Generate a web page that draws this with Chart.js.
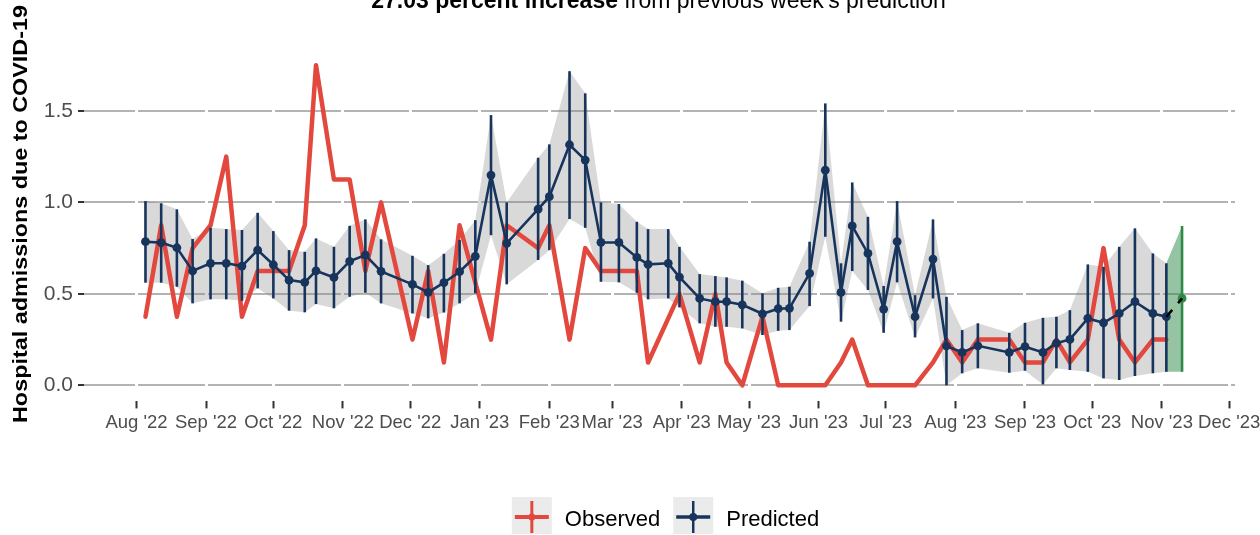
<!DOCTYPE html>
<html>
<head>
<meta charset="utf-8">
<title>COVID-19 hospital admissions</title>
<script src="https://cdn.jsdelivr.net/npm/chart.js@4.4.0/dist/chart.umd.min.js"></script>
<style>
  html, body { margin: 0; padding: 0; background: #ffffff; }
  #wrap { width: 1260px; height: 535px; }
</style>
</head>
<body>
<div id="wrap"><canvas id="myChart" width="1260" height="535"></canvas></div>
<script>
// Report dates (one per week, a few weeks are missing)
var weekDates = [
  '2022-08-05', '2022-08-12', '2022-08-19', '2022-08-26', '2022-09-03', '2022-09-10', '2022-09-17',
  '2022-09-24', '2022-10-01', '2022-10-08', '2022-10-15', '2022-10-20', '2022-10-28', '2022-11-04',
  '2022-11-11', '2022-11-18', '2022-12-02', '2022-12-09', '2022-12-16', '2022-12-23', '2022-12-30',
  '2023-01-06', '2023-01-13', '2023-01-27', '2023-02-01', '2023-02-10', '2023-02-17', '2023-02-24',
  '2023-03-04', '2023-03-12', '2023-03-17', '2023-03-26', '2023-03-31', '2023-04-09', '2023-04-16',
  '2023-04-21', '2023-04-28', '2023-05-07', '2023-05-14', '2023-05-19', '2023-05-28', '2023-06-04',
  '2023-06-11', '2023-06-16', '2023-06-23', '2023-06-30', '2023-07-06', '2023-07-14', '2023-07-22',
  '2023-07-28', '2023-08-04', '2023-08-11', '2023-08-25', '2023-09-01', '2023-09-09', '2023-09-15',
  '2023-09-21', '2023-09-29', '2023-10-06', '2023-10-13', '2023-10-20', '2023-10-28', '2023-11-03'
];

// Observed admissions (null = no observation that week)
var observed = [
  0.375, 0.875, 0.375, 0.75, 0.875, 1.25, 0.375, 0.625, 0.625, 0.625, 0.875, 1.75, 1.125, 1.125,
  0.625, 1.0, 0.25, 0.625, 0.125, 0.875, null, 0.25, 0.875, 0.75, 0.875, 0.25, 0.75, 0.625,
  0.625, 0.625, 0.125, null, 0.5, 0.125, 0.5, 0.125, 0, 0.375, 0, 0, 0, 0,
  0.125, 0.25, 0, 0, 0, 0, 0.125, 0.25, 0.125, 0.25, 0.25, 0.125, 0.125, 0.25,
  0.125, 0.25, 0.75, 0.25, 0.125, 0.25, 0.25
];

// Predicted admissions with interval
var predicted = [
  0.785, 0.78, 0.752, 0.625, 0.667, 0.667, 0.652, 0.739, 0.659, 0.575, 0.563, 0.626, 0.59, 0.678,
  0.712, 0.623, 0.552, 0.508, 0.561, 0.621, 0.705, 1.149, 0.776, 0.963, 1.031, 1.315, 1.231, 0.781,
  0.781, 0.699, 0.661, 0.667, 0.592, 0.475, 0.457, 0.457, 0.44, 0.391, 0.419, 0.421, 0.612, 1.176,
  0.508, 0.871, 0.721, 0.417, 0.785, 0.375, 0.69, 0.215, 0.18, 0.216, 0.18, 0.211, 0.18, 0.23,
  0.251, 0.366, 0.342, 0.393, 0.457, 0.393, 0.375
];
var predLower = [
  0.561, 0.561, 0.539, 0.448, 0.47, 0.47, 0.462, 0.53, 0.475, 0.408, 0.399, 0.444, 0.421, 0.484,
  0.506, 0.448, 0.393, 0.366, 0.398, 0.448, 0.503, 0.821, 0.552, 0.685, 0.739, 0.909, 0.861, 0.566,
  0.563, 0.506, 0.47, 0.475, 0.426, 0.339, 0.32, 0.32, 0.311, 0.275, 0.298, 0.302, 0.433, 0.812,
  0.348, 0.625, 0.521, 0.287, 0.563, 0.262, 0.475, 0.0, 0.066, 0.093, 0.069, 0.08, 0.005, 0.093,
  0.084, 0.074, 0.038, 0.029, 0.051, 0.066, 0.074
];
var predUpper = [
  1.007, 0.995, 0.962, 0.8, 0.861, 0.854, 0.849, 0.943, 0.843, 0.739, 0.73, 0.803, 0.757, 0.872,
  0.907, 0.798, 0.708, 0.657, 0.719, 0.794, 0.903, 1.477, 1.0, 1.244, 1.317, 1.717, 1.596, 1.0,
  0.991, 0.894, 0.854, 0.854, 0.757, 0.608, 0.597, 0.59, 0.572, 0.503, 0.533, 0.539, 0.785, 1.541,
  0.667, 1.109, 0.921, 0.543, 1.007, 0.493, 0.907, 0.484, 0.302, 0.339, 0.287, 0.342, 0.369, 0.375,
  0.411, 0.661, 0.648, 0.757, 0.858, 0.721, 0.667
];

// Next week's forecast
var forecastDate = '2023-11-10';
var forecastValue = 0.475;
var forecastLower = 0.074;
var forecastUpper = 0.871;

// Axis ticks
var monthStarts = [
  '2022-08-01', '2022-09-01', '2022-10-01', '2022-11-01', '2022-12-01', '2023-01-01', '2023-02-01',
  '2023-03-01', '2023-04-01', '2023-05-01', '2023-06-01', '2023-07-01', '2023-08-01', '2023-09-01',
  '2023-10-01', '2023-11-01', '2023-12-01'
];
var monthLabels = [
  "Aug '22", "Sep '22", "Oct '22", "Nov '22", "Dec '22", "Jan '23", "Feb '23", "Mar '23", "Apr '23",
  "May '23", "Jun '23", "Jul '23", "Aug '23", "Sep '23", "Oct '23", "Nov '23", "Dec '23"
];
var yTicks = [0, 0.5, 1, 1.5];

var titleBold = '27.03 percent increase';
var titleRest = " from previous week's prediction";
var yTitle = 'Hospital admissions due to COVID-19';

var RED = '#e2483e';
var NAVY = '#17345c';
var GREEN = '#2e8a46';
var FONT = "'Liberation Sans', Arial, Helvetica, sans-serif";

// days since 1 Aug 2022
var DAY0 = Date.UTC(2022, 7, 1);
function toDay(s) {
  var p = s.split('-');
  return (Date.UTC(+p[0], +p[1] - 1, +p[2]) - DAY0) / 86400000;
}
function pts(vals) {
  return weekDates.map(function (d, i) { return { x: toDay(d), y: vals[i] }; });
}

var last = weekDates.length - 1;
var lastDay = toDay(weekDates[last]);
var fDay = toDay(forecastDate);

// error bars are drawn just before the predicted line
var errorBars = {
  id: 'errorBars',
  beforeDatasetDraw: function (chart, args) {
    if (args.index !== 5) return;
    var ctx = chart.ctx, xs = chart.scales.x, ys = chart.scales.y;
    ctx.save();
    ctx.lineWidth = 2.6;
    ctx.strokeStyle = NAVY;
    weekDates.forEach(function (d, i) {
      var px = xs.getPixelForValue(toDay(d));
      ctx.beginPath();
      ctx.moveTo(px, ys.getPixelForValue(predLower[i]));
      ctx.lineTo(px, ys.getPixelForValue(predUpper[i]));
      ctx.stroke();
    });
    var fx = xs.getPixelForValue(fDay);
    ctx.strokeStyle = GREEN;
    ctx.beginPath();
    ctx.moveTo(fx, ys.getPixelForValue(forecastLower));
    ctx.lineTo(fx, ys.getPixelForValue(forecastUpper));
    ctx.stroke();
    ctx.restore();
  }
};

// title, y axis title and legend
var decorations = {
  id: 'decorations',
  afterDraw: function (chart) {
    var ctx = chart.ctx, area = chart.chartArea;
    var cx = (area.left + area.right) / 2;
    ctx.save();

    // title (cut off at the top like the original)
    ctx.fillStyle = '#000000';
    ctx.textBaseline = 'alphabetic';
    ctx.textAlign = 'left';
    ctx.font = 'bold 23px ' + FONT;
    var wb = ctx.measureText(titleBold).width;
    ctx.font = '23px ' + FONT;
    var wr = ctx.measureText(titleRest).width;
    var tx = cx - 1 - (wb + wr) / 2;
    ctx.font = 'bold 23px ' + FONT;
    ctx.fillText(titleBold, tx, 7.5);
    ctx.font = '23px ' + FONT;
    ctx.fillText(titleRest, tx + wb, 7.5);

    // y axis title
    ctx.save();
    ctx.translate(27, 214);
    ctx.rotate(-Math.PI / 2);
    ctx.font = 'bold 21px ' + FONT;
    var wy = ctx.measureText(yTitle).width;
    ctx.scale(418 / wy, 1);
    ctx.textAlign = 'center';
    ctx.fillText(yTitle, 0, 0);
    ctx.restore();

    // legend
    ctx.font = '22px ' + FONT;
    var items = [
      { text: 'Observed', color: RED, lw: 4, vw: 3, r: 3.5 },
      { text: 'Predicted', color: NAVY, lw: 3.5, vw: 2.5, r: 4 }
    ];
    var total = 0;
    items.forEach(function (it) { it.w = ctx.measureText(it.text).width; total += 40 + 13 + it.w; });
    total += 13;
    var x = cx + 6 - total / 2;
    var ky = 497;
    items.forEach(function (it) {
      ctx.fillStyle = '#ebebeb';
      ctx.fillRect(x, ky, 40, 37);
      var mx = x + 20, my = ky + 20;
      ctx.strokeStyle = it.color;
      ctx.lineWidth = it.lw;
      ctx.beginPath();
      ctx.moveTo(x + 3, my);
      ctx.lineTo(x + 37, my);
      ctx.stroke();
      ctx.lineWidth = it.vw;
      ctx.beginPath();
      ctx.moveTo(mx, ky + 4);
      ctx.lineTo(mx, ky + 36);
      ctx.stroke();
      ctx.fillStyle = it.color;
      ctx.beginPath();
      ctx.arc(mx, my, it.r, 0, Math.PI * 2);
      ctx.fill();
      ctx.fillStyle = '#000000';
      ctx.textAlign = 'left';
      ctx.fillText(it.text, x + 53, 526);
      x += 40 + 13 + it.w + 13;
    });
    ctx.restore();
  }
};

var ctx = document.getElementById('myChart').getContext('2d');
var myChart = new Chart(ctx, {
  type: 'line',
  data: {
    datasets: [
      // grey prediction ribbon
      { label: 'upper', data: pts(predUpper), borderColor: 'rgba(0,0,0,0)', borderWidth: 0, pointRadius: 0,
        fill: '+1', backgroundColor: 'rgba(128,128,128,0.3)', tension: 0, order: 10 },
      { label: 'lower', data: pts(predLower), borderColor: 'rgba(0,0,0,0)', borderWidth: 0, pointRadius: 0,
        fill: false, order: 9 },
      // green forecast ribbon
      { label: 'fUpper', data: [{ x: lastDay, y: predUpper[last] }, { x: fDay, y: forecastUpper }],
        borderColor: 'rgba(0,0,0,0)', borderWidth: 0, pointRadius: 0, fill: '+1',
        backgroundColor: 'rgba(46,138,70,0.5)', order: 8 },
      { label: 'fLower', data: [{ x: lastDay, y: predLower[last] }, { x: fDay, y: forecastLower }],
        borderColor: 'rgba(0,0,0,0)', borderWidth: 0, pointRadius: 0, fill: false, order: 7 },
      // observed
      { label: 'Observed', data: pts(observed), borderColor: RED, borderWidth: 4.5, pointRadius: 0,
        spanGaps: true, borderJoinStyle: 'round', borderCapStyle: 'round', fill: false, order: 5 },
      // predicted
      { label: 'Predicted', data: pts(predicted), borderColor: NAVY, borderWidth: 2.6, pointRadius: 4.4,
        pointBackgroundColor: NAVY, pointBorderWidth: 0, fill: false, order: 4 },
      // forecast point
      { label: 'Forecast', data: [{ x: fDay, y: forecastValue }], showLine: false, pointRadius: 4.4,
        pointBackgroundColor: GREEN, pointBorderWidth: 0, order: 3 },
      // dashed link to the forecast
      { label: 'Link', data: [{ x: lastDay, y: predicted[last] }, { x: fDay, y: forecastValue }],
        borderColor: '#000000', borderWidth: 2.6, borderDash: [9, 9], pointRadius: 0, fill: false, order: 1 }
    ]
  },
  options: {
    responsive: false,
    animation: false,
    devicePixelRatio: 1,
    layout: { padding: { top: 48, right: 25, left: 0, bottom: 0 } },
    plugins: {
      legend: { display: false },
      title: { display: false },
      tooltip: { enabled: false }
    },
    scales: {
      x: {
        type: 'linear',
        min: -23.4,
        max: 489.6,
        afterBuildTicks: function (axis) {
          axis.ticks = monthStarts.map(function (d) { return { value: toDay(d) }; });
        },
        afterFit: function (axis) {
          axis.height = 133.6;
          axis.paddingLeft = 0;
          axis.paddingRight = 0;
        },
        grid: { color: '#ffffff', lineWidth: 3, tickColor: '#333333', tickLength: 7, tickWidth: 2, z: -1 },
        border: { display: false },
        ticks: {
          color: '#4d4d4d',
          font: { size: 18.5, family: FONT },
          padding: 3,
          maxRotation: 0,
          autoSkip: false,
          callback: function (v, i) { return monthLabels[i]; }
        }
      },
      y: {
        type: 'linear',
        min: -0.0878,
        max: 1.8438,
        afterBuildTicks: function (axis) {
          axis.ticks = yTicks.map(function (v) { return { value: v }; });
        },
        afterFit: function (axis) {
          axis.width = 84;
          axis.paddingTop = 0;
          axis.paddingBottom = 0;
        },
        grid: { color: '#b3b3b3', lineWidth: 2, tickColor: '#333333', tickLength: 6, tickWidth: 2, z: -2 },
        border: { display: false },
        ticks: {
          color: '#4d4d4d',
          font: { size: 21, family: FONT },
          padding: 5,
          callback: function (v) { return v.toFixed(1); }
        }
      }
    }
  },
  plugins: [errorBars, decorations]
});
</script>
</body>
</html>
